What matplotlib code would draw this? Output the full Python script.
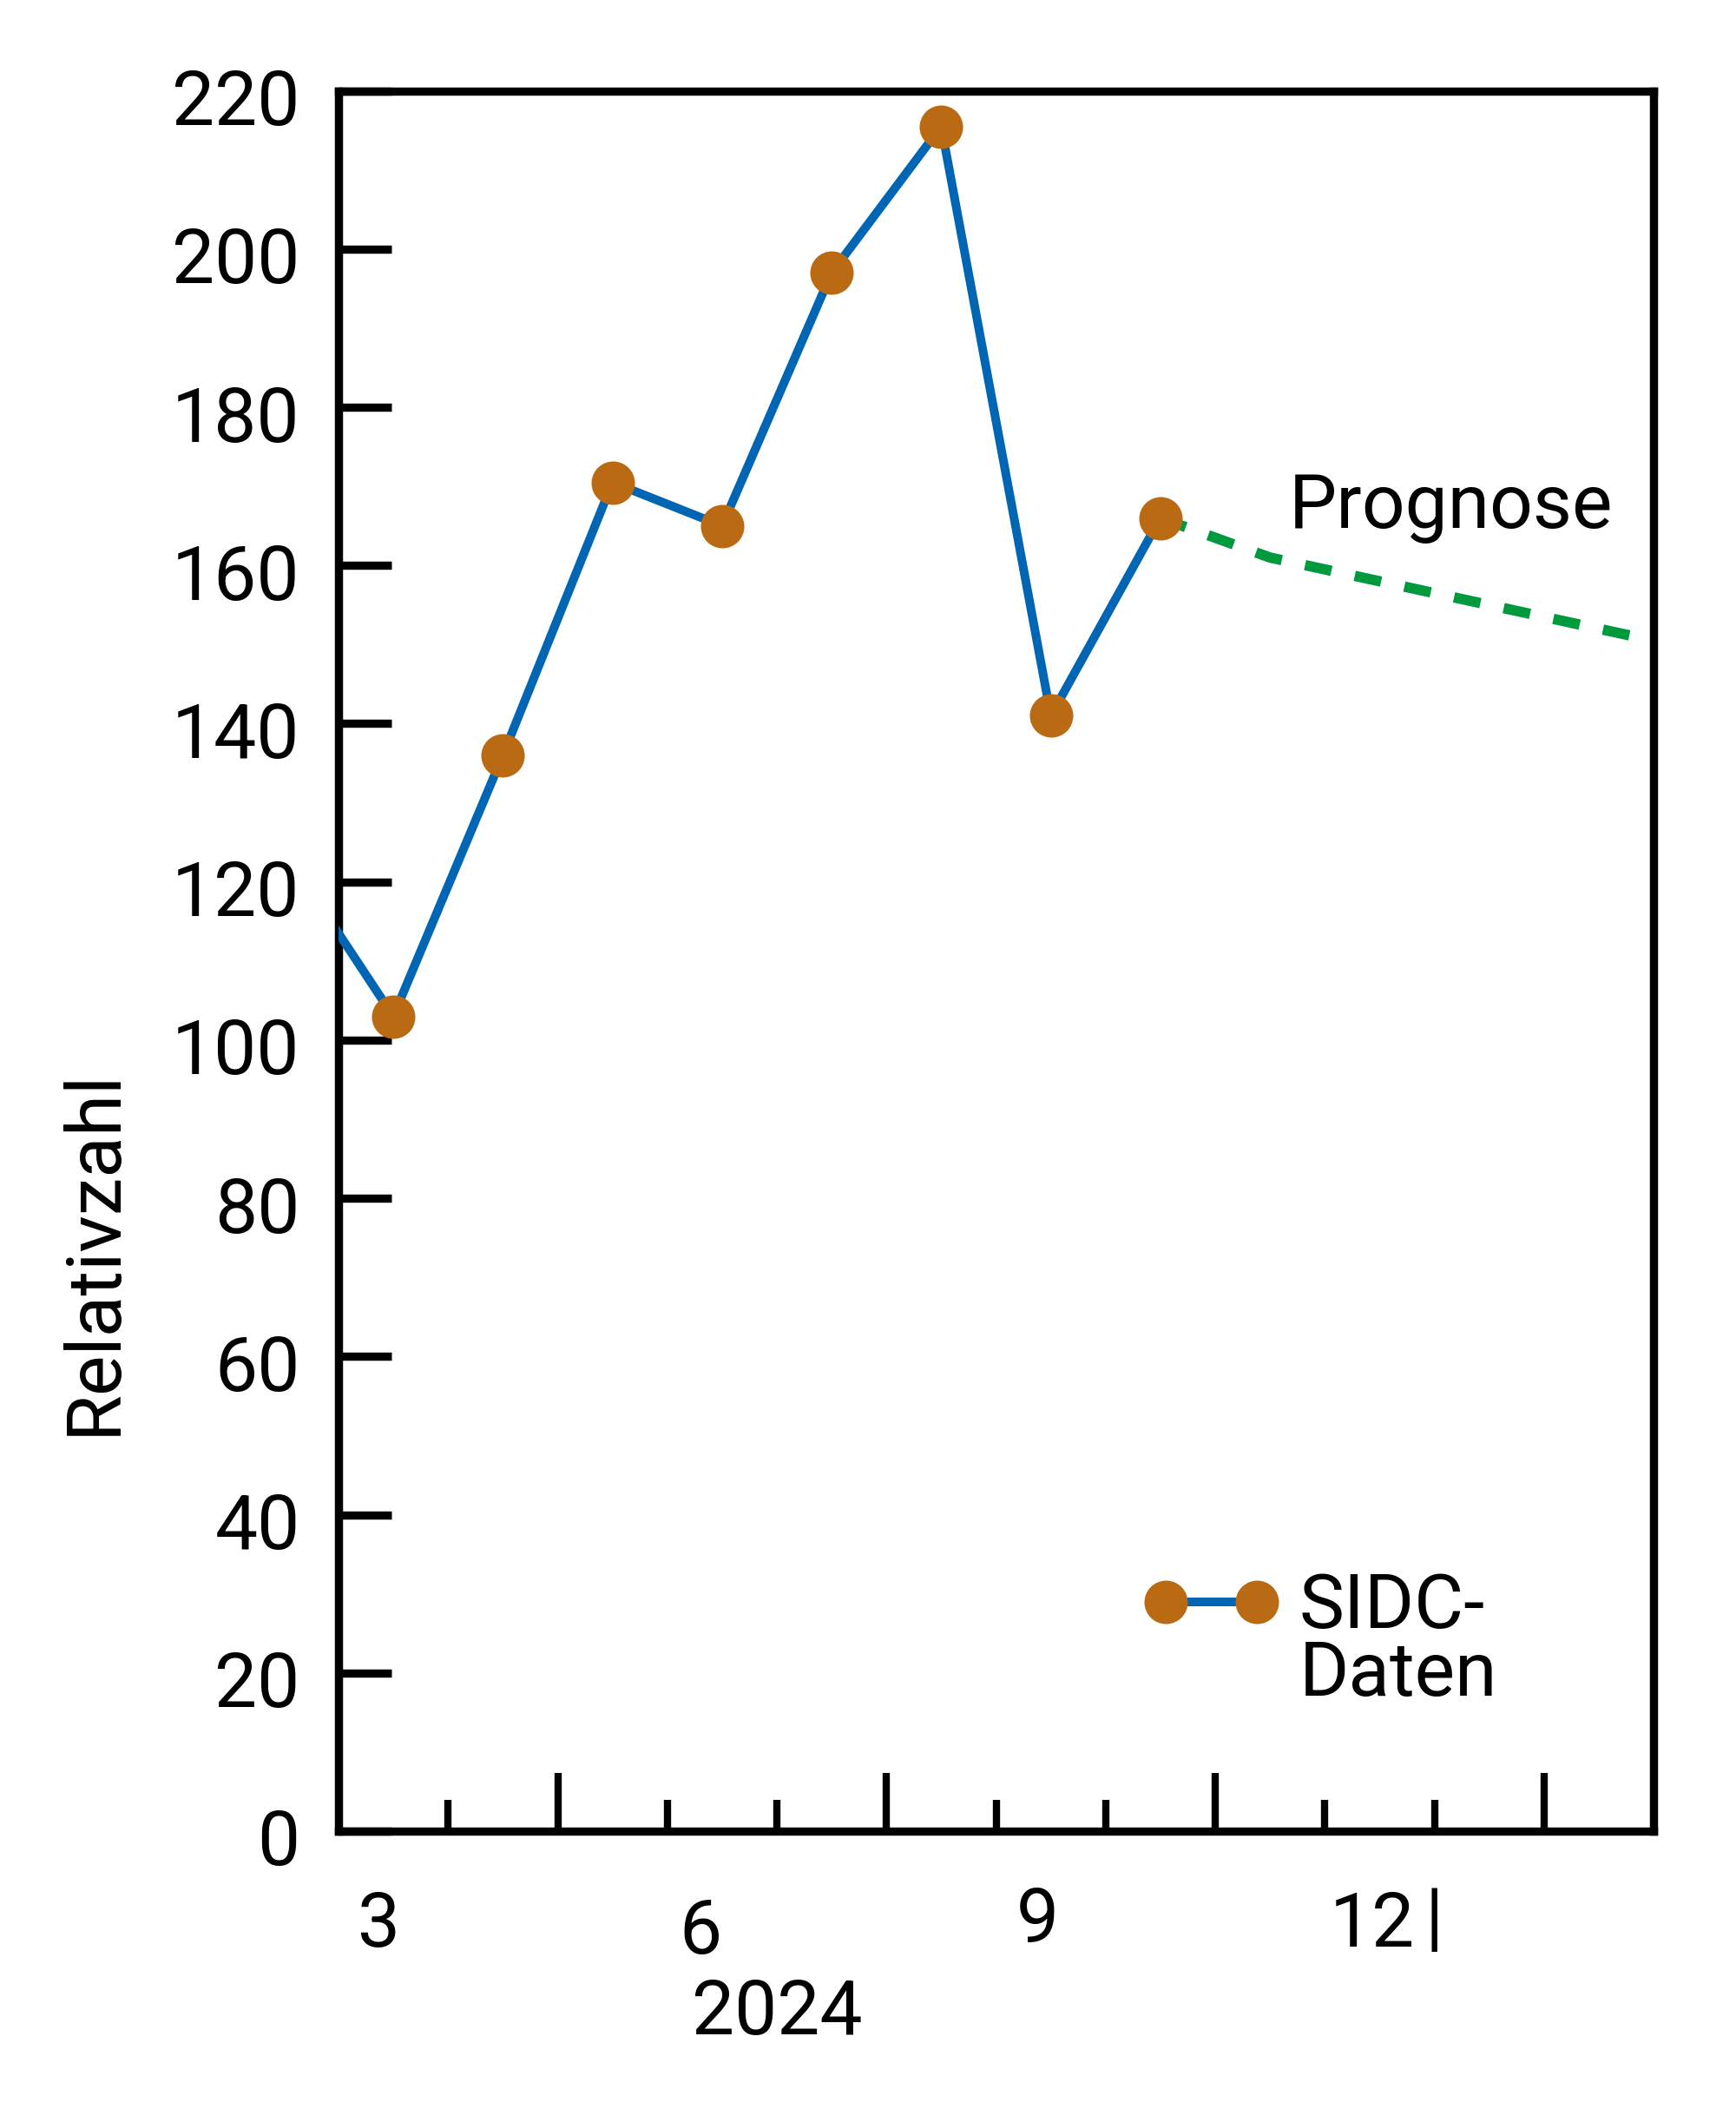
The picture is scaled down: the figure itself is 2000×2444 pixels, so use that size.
import matplotlib
matplotlib.use("Agg")
import matplotlib.pyplot as plt
from matplotlib import font_manager
from matplotlib.lines import Line2D
import matplotlib.transforms as mtransforms
import numpy as np

# ---- data ----
months_obs = [2, 3, 4, 5, 6, 7, 8, 9, 10]          # month of 2024
sidc_values = [124, 103, 136, 170.5, 165, 197, 215.5, 141, 166]
months_fc = [10, 11, 12, 13, 14, 15]                 # 13 = Jan 2025 ...
forecast_values = [166, 161, 158, 155, 152, 149]
yticks = list(range(0, 221, 20))
month_labels = ["3", "6", "9", "12"]
month_label_pos = [3, 6, 9, 12]
year_label = "2024"

# ---- fonts ----
avail = {f.name for f in font_manager.fontManager.ttflist}
fam = "Liberation Sans Narrow" if "Liberation Sans Narrow" in avail else "Roboto"
plt.rcParams["font.family"] = [fam, "DejaVu Sans"]
FS = 31.5

BLUE = "#0066b3"
ORANGE = "#b96a12"
GREEN = "#009a3e"

fig = plt.figure(figsize=(10, 12.22), dpi=200)
ax = fig.add_axes([0.195, 0.1371, 0.9525 - 0.195, 0.9572 - 0.1371])

# month midpoints: month k occupies [k, k+1]
x_obs = [m + 0.5 for m in months_obs]
x_fc = [m + 0.5 for m in months_fc]

ax.plot(x_fc, forecast_values, color=GREEN, lw=4.3, dashes=(2.6, 2.3),
        solid_capstyle="butt", dash_capstyle="butt", zorder=2)
line, = ax.plot(x_obs, sidc_values, color=BLUE, lw=3.6, marker="o",
                markersize=17, markerfacecolor=ORANGE, markeredgecolor=ORANGE,
                zorder=3, clip_on=True)

ax.set_xlim(3, 15)
ax.set_ylim(0, 220)

for s in ax.spines.values():
    s.set_linewidth(3.4)

ax.set_yticks(yticks)
ax.tick_params(axis="y", direction="in", length=22, width=3.4, pad=16,
               labelsize=FS)
offset = mtransforms.ScaledTranslation(0, -6.5 / 200, fig.dpi_scale_trans)
for lab in ax.get_yticklabels():
    lab.set_transform(lab.get_transform() + offset)
ax.set_xticks([5, 8, 11, 14])
ax.set_xticks([4, 6, 7, 9, 10, 12, 13], minor=True)
ax.tick_params(axis="x", which="major", direction="in", length=24, width=3,
               labelbottom=False)
ax.tick_params(axis="x", which="minor", direction="in", length=13, width=3,
               labelbottom=False)
ax.tick_params(axis="y", which="minor", left=False)

# month labels below axis
trans = mtransforms.blended_transform_factory(ax.transData, fig.transFigure)
offsets = [0.37, 0.30, 0.38, 0.43]
ys = [1 - 2218 / 2444, 1 - 2226 / 2444, 1 - 2213 / 2444, 1 - 2218 / 2444]
for lab, p, off, yy in zip(month_labels, month_label_pos, offsets, ys):
    ax.text(p + off, yy, lab, transform=trans, ha="center", va="center",
            fontsize=FS)
ax.text(13.0, 1 - 2212 / 2444, "|", transform=trans, ha="center",
        va="center", fontsize=FS)
ax.text(7.0, 1 - 2319 / 2444, year_label, transform=trans, ha="center",
        va="center", fontsize=FS)

ax.set_ylabel("Relativzahl", fontsize=FS)
ax.yaxis.label.set_va("center")
ax.yaxis.set_label_coords(-0.1855, 0.333)

ax.text(11.67, 164.8, "Prognose", ha="left", va="baseline", fontsize=FS)

handle = Line2D([], [], color=BLUE, lw=3.6, marker="o", markersize=17,
                markerfacecolor=ORANGE, markeredgecolor=ORANGE)
leg = ax.legend([handle], ["SIDC-\nDaten"], loc="upper left",
                bbox_to_anchor=(0.612, 0.1495), frameon=False, fontsize=FS,
                numpoints=2, handlelength=1.8, handletextpad=0.25,
                handleheight=2.6, borderpad=0, borderaxespad=0)
for t in leg.get_texts():
    t.set_linespacing(0.9)
# align the legend key with the first text line
for h in leg.legend_handles:
    yd = np.asarray(h.get_ydata(), dtype=float)
    h.set_ydata(yd + 7.9)

fig.savefig("out.png", dpi=200)
